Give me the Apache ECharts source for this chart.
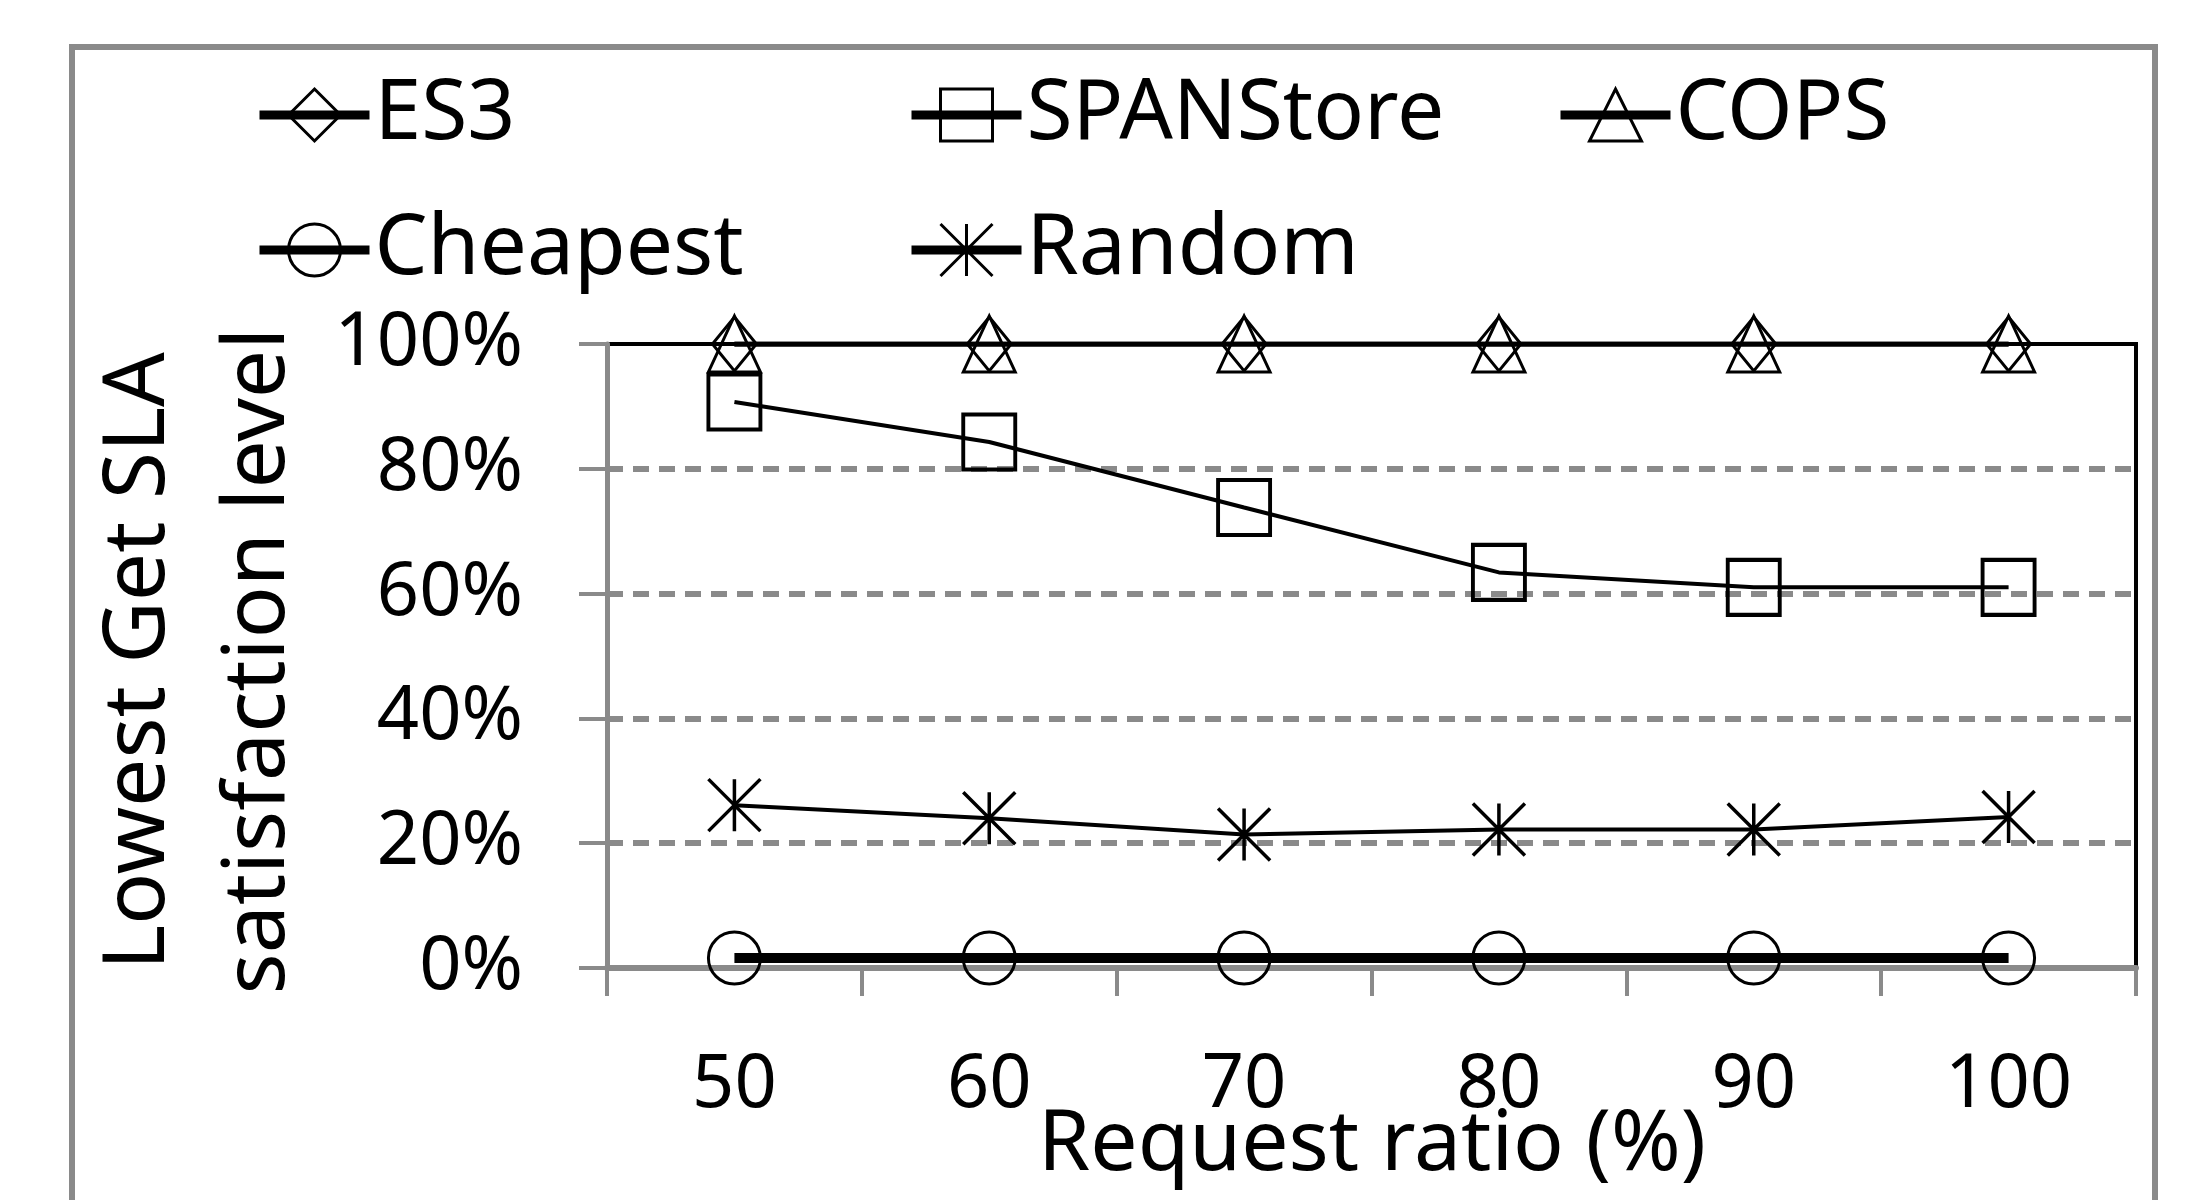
<!DOCTYPE html>
<html>
<head>
<meta charset="utf-8">
<script src="https://cdn.jsdelivr.net/npm/echarts@6/dist/echarts.min.js"></script>
<style>
html,body{margin:0;padding:0;background:#fff;}
#chart{width:2187px;height:1200px;}
</style>
</head>
<body>
<div id="chart"></div>
<script>
// ---- data ----
const categories = ['50', '60', '70', '80', '90', '100'];
const es3 = [100, 100, 100, 100, 100, 100];
const spanstore = [90.7, 84.3, 73.8, 63.4, 61.0, 61.0];
const cops = [100, 100, 100, 100, 100, 100];
const cheapest = [1.6, 1.6, 1.6, 1.6, 1.6, 1.6];
const random = [26.1, 24.0, 21.4, 22.2, 22.2, 24.2];
const yTicks = [0, 20, 40, 60, 80, 100];
const xTitle = 'Request ratio (%)';
const yTitle1 = 'Lowest Get SLA';
const yTitle2 = 'satisfaction level';

const FONT = 'Noto Sans';
const GRAY = '#8a8a8a';
const asterisk = 'path://M50 0 L50 100 M0 0 L100 100 M100 0 L0 100';

function lineSeries(name, data, symbol, size, lineWidth, borderWidth) {
  return {
    name: name,
    type: 'line',
    data: data,
    symbol: symbol,
    symbolSize: size,
    showAllSymbol: true,
    lineStyle: { color: '#000', width: lineWidth },
    itemStyle: { color: 'rgba(0,0,0,0)', borderColor: '#000', borderWidth: borderWidth },
    emphasis: { disabled: true }
  };
}

function legendAt(name, left, top) {
  return {
    data: [name],
    left: left,
    top: top,
    padding: 0,
    itemWidth: 110,
    itemHeight: 65,
    selectedMode: false,
    lineStyle: { width: 9, color: '#000' },
    itemStyle: { color: 'rgba(0,0,0,0)', borderColor: '#000', borderWidth: 3 },
    textStyle: { fontFamily: FONT, fontSize: 84, color: '#000', padding: [0, 0, 0, 0] }
  };
}

const chart = echarts.init(document.getElementById('chart'), null, { renderer: 'canvas' });
chart.setOption({
  animation: false,
  backgroundColor: '#fff',
  legend: [
    legendAt('ES3', 255, 73),
    legendAt('SPANStore', 907, 73),
    legendAt('COPS', 1556, 73),
    legendAt('Cheapest', 255, 208),
    legendAt('Random', 907, 208)
  ],
  grid: {
    left: 607, right: 51, top: 344, bottom: 232,
    show: true, borderColor: '#000', borderWidth: 4, backgroundColor: 'rgba(0,0,0,0)'
  },
  xAxis: {
    type: 'category',
    data: categories,
    boundaryGap: true,
    axisLine: { lineStyle: { color: GRAY, width: 6 } },
    axisTick: { show: true, alignWithLabel: false, length: 28, lineStyle: { color: GRAY, width: 4 } },
    axisLabel: { fontFamily: FONT, fontSize: 74, color: '#000', margin: 81 },
    splitLine: { show: false }
  },
  yAxis: {
    type: 'value',
    min: yTicks[0],
    max: yTicks[yTicks.length - 1],
    interval: 20,
    axisLine: { show: true, lineStyle: { color: GRAY, width: 5 } },
    axisTick: { show: true, length: 28, lineStyle: { color: GRAY, width: 4 } },
    axisLabel: { fontFamily: FONT, fontSize: 74, color: '#000', margin: 84, formatter: '{value}%' },
    splitLine: { show: true, showMinLine: false, showMaxLine: false, lineStyle: { color: GRAY, width: 6, type: [16, 10] } }
  },
  series: [
    lineSeries('ES3', es3, 'diamond', [44, 54], 5, 3),
    lineSeries('SPANStore', spanstore, 'rect', [52, 55], 4, 4),
    lineSeries('COPS', cops, 'triangle', [52, 56], 5, 3),
    lineSeries('Cheapest', cheapest, 'circle', 52, 10, 3),
    lineSeries('Random', random, asterisk, 52, 4, 3.5)
  ],
  graphic: [
    {
      type: 'rect', silent: true, z: -1,
      shape: { x: 72, y: 47, width: 2083, height: 1300 },
      style: { fill: 'none', stroke: GRAY, lineWidth: 6 }
    },
    {
      type: 'text', silent: true,
      x: 139, y: 661, rotation: Math.PI / 2,
      style: { text: yTitle1, font: '86px "Noto Sans"', fill: '#000', textAlign: 'center', textVerticalAlign: 'middle' }
    },
    {
      type: 'text', silent: true,
      x: 259, y: 661, rotation: Math.PI / 2,
      style: { text: yTitle2, font: '86px "Noto Sans"', fill: '#000', textAlign: 'center', textVerticalAlign: 'middle' }
    },
    {
      type: 'text', silent: true,
      x: 1372, y: 1146,
      style: { text: xTitle, font: '84px "Noto Sans"', fill: '#000', textAlign: 'center', textVerticalAlign: 'middle' }
    }
  ]
});
</script>
</body>
</html>
